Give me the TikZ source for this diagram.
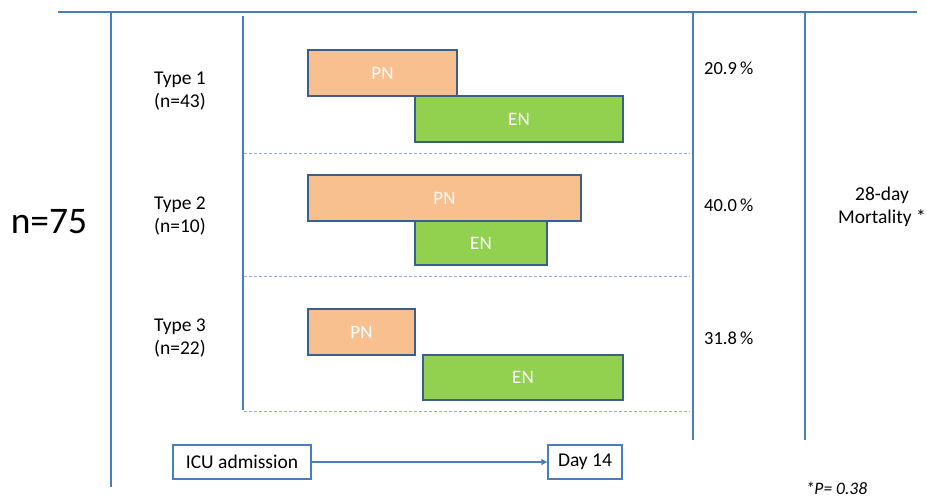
\documentclass[tikz,border=0pt]{standalone}
\usepackage{fontspec}
\setmainfont{Carlito}
\usetikzlibrary{arrows.meta}
\definecolor{lineblue}{HTML}{4A7EBB}
\definecolor{boxedge}{HTML}{3A5F8D}
\definecolor{dashblue}{HTML}{8EAEDB}
\definecolor{pnfill}{HTML}{F9C08F}
\definecolor{enfill}{HTML}{92D050}
\tikzset{
  frame/.style={draw=lineblue, line width=1.6pt},
  sep/.style={draw=dashblue, line width=0.9pt, dash pattern=on 3pt off 2pt},
  bar/.style={draw=boxedge, line width=1.3pt, text=white, font=\fontsize{19}{22}\selectfont, inner sep=0pt},
  pn/.style={bar, fill=pnfill},
  en/.style={bar, fill=enfill},
  lbl/.style={font=\fontsize{19.5}{23}\selectfont, align=center, inner sep=0pt},
  pct/.style={font=\fontsize{18.5}{22}\selectfont, inner sep=0pt, anchor=west},
  tbox/.style={draw=lineblue, line width=1.4pt, fill=white, font=\fontsize{19.5}{22}\selectfont, inner sep=0pt},
}
\begin{document}
\begin{tikzpicture}[x=1pt,y=-1pt]
\useasboundingbox (0,0) rectangle (927,497);
% frame lines
\coordinate (tl) at (58,12); \coordinate (tr) at (917,12);
\draw[frame] (tl) -- (tr);
\coordinate (v1t) at (111,12); \coordinate (v1b) at (111,487);
\coordinate (v2t) at (243,16); \coordinate (v2b) at (243,410);
\coordinate (v3t) at (693,12); \coordinate (v3b) at (693,440);
\coordinate (v4t) at (805,12); \coordinate (v4b) at (805,440);
\draw[frame] (v1t) -- (v1b);
\draw[frame] (v2t) -- (v2b);
\draw[frame] (v3t) -- (v3b);
\draw[frame] (v4t) -- (v4b);
% dashed separators
\coordinate (d1a) at (244,153); \coordinate (d1b) at (690,153);
\coordinate (d2a) at (244,276); \coordinate (d2b) at (690,276);
\coordinate (d3a) at (244,411); \coordinate (d3b) at (690,411);
\draw[sep] (d1a) -- (d1b);
\draw[sep] (d2a) -- (d2b);
\draw[sep] (d3a) -- (d3b);
% bars
\node[pn, minimum width=149pt, minimum height=46pt] (pn1) at (382.5,73) {PN};
\node[en, minimum width=208pt, minimum height=46pt] (en1) at (519,119) {EN};
\node[pn, minimum width=273pt, minimum height=46pt] (pn2) at (444.5,198) {PN};
\node[en, minimum width=132pt, minimum height=44pt] (en2) at (481,243) {EN};
\node[pn, minimum width=107pt, minimum height=46pt] (pn3) at (361.5,332) {PN};
\node[en, minimum width=200pt, minimum height=45pt] (en3) at (523,377.5) {EN};
% labels
\node[lbl] (t1) at (180,91) {Type 1\\(n=43)};
\node[lbl] (t2) at (180,216) {Type 2\\(n=10)};
\node[lbl] (t3) at (180,338) {Type 3\\(n=22)};
\node[font=\fontsize{37.5}{40}\selectfont, inner sep=0pt] (n) at (49,222) {n=75};
\node[pct] (p1) at (704,68) {20.9\,\%};
\node[pct] (p2) at (704,205) {40.0\,\%};
\node[pct] (p3) at (704,338) {31.8\,\%};
\node[lbl] (mort) at (882,207) {28-day\\Mortality *};
\node[font=\itshape\fontsize{17.5}{20}\selectfont, inner sep=0pt, anchor=base] (pval) at (836.5,494) {*P= 0.38};
% timeline
\node[tbox, minimum width=138pt, minimum height=34pt] (icu) at (242,462) {ICU admission};
\node[tbox, minimum width=74pt, minimum height=34pt] (d14) at (585,462) {Day 14};
\draw[draw=lineblue, line width=1.4pt, -{Triangle[length=6pt,width=6pt]}] (icu) -- (d14);
\end{tikzpicture}
\end{document}
